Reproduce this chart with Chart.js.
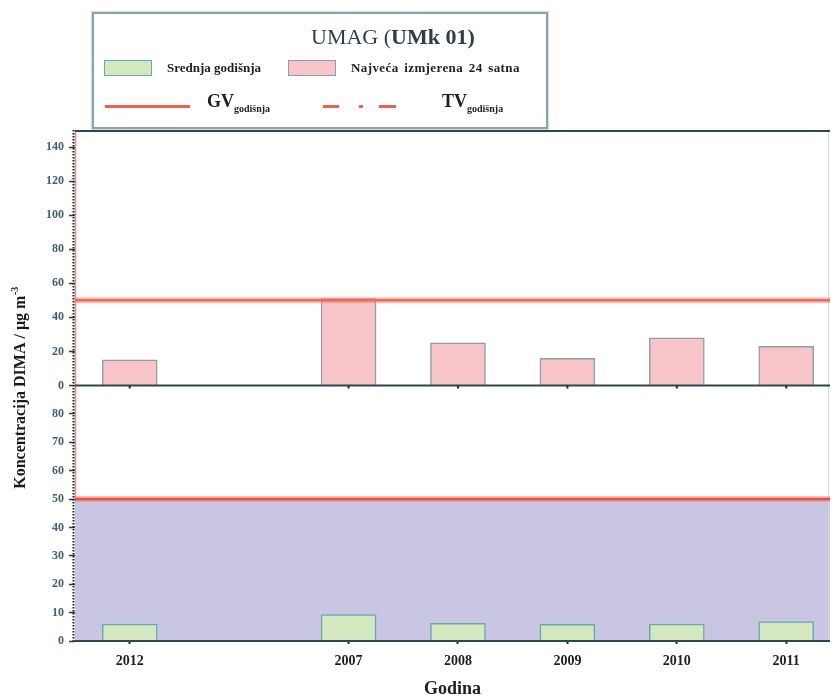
<!DOCTYPE html>
<html>
<head>
<meta charset="utf-8">
<script src="https://cdn.jsdelivr.net/npm/chart.js@4.4.1/dist/chart.umd.min.js"></script>
<style>
  html, body { margin: 0; padding: 0; background: #fff; }
  #wrap { position: relative; width: 832px; height: 698px; font-family: "Liberation Serif", "DejaVu Serif", serif; }
  canvas { position: absolute; left: 0; top: 0; }
  #legend { position: absolute; left: 92px; top: 12px; width: 452px; height: 113px;
            border: 2px solid #86a4b3; box-shadow: 0 0 0 1px #f3d2cc; background: #fff; color: #1e1e1e; }
  #legend .title { position: absolute; left: 217px; top: 10px; font-size: 22px; color: #2a3f4a; white-space: nowrap; }
  #legend .sw { position: absolute; width: 46px; height: 14px; border: 1.5px solid; }
  #legend .lbl { position: absolute; font-size: 13px; font-weight: bold; white-space: nowrap; }
  #legend .big { position: absolute; font-size: 18px; font-weight: bold; white-space: nowrap; }
  #legend .big sub { font-size: 10px; vertical-align: -5px; }
  #legend .ln { position: absolute; height: 3px; background: #ec6051; }
</style>
</head>
<body>
<div id="wrap">
  <canvas id="c" width="832" height="698"></canvas>
  <div id="legend">
    <div class="title">UMAG (<b>UMk 01)</b></div>
    <div class="sw" style="left:10px; top:46px; background:#d3e8bf; border-color:#6aa8b0;"></div>
    <div class="lbl" style="left:73px; top:46px;">Srednja godišnja</div>
    <div class="sw" style="left:194px; top:46px; background:#f7c5c8; border-color:#8f9dad;"></div>
    <div class="lbl" style="left:257px; top:46px; word-spacing: 2px; letter-spacing: 0.4px;">Najveća izmjerena 24 satna</div>
    <div class="ln" style="left:11px; top:91px; width:85px;"></div>
    <div class="big" style="left:113px; top:77px;">GV<sub>godišnja</sub></div>
    <div class="ln" style="left:229px; top:91px; width:16px;"></div>
    <div class="ln" style="left:265px; top:91px; width:4px;"></div>
    <div class="ln" style="left:285px; top:91px; width:17px;"></div>
    <div class="big" style="left:348px; top:77px;">TV<sub>godišnja</sub></div>
  </div>
</div>
<script>
// Measurement years at station UMAG (UMk 01); the empty slot keeps the gap after 2012
const YEARS = ['2012', '', '2007', '2008', '2009', '2010', '2011'];
// Highest measured 24-hour concentration (µg m-3)
const MAX_24H = [15, null, 51, 25, 16, 28, 23];
// Annual mean concentration (µg m-3)
const ANNUAL_MEAN = [6, null, 9.3, 6.2, 5.9, 6.0, 6.8];
// Annual limit value
const GV_ANNUAL = 50;
// Tick values of the two panels
const TOP_TICKS = [0, 20, 40, 60, 80, 100, 120, 140];
const BOTTOM_TICKS = [0, 10, 20, 30, 40, 50, 60, 70, 80];

const toPoints = vals => YEARS.map((y, i) => ({ x: i, y: vals[i] })).filter(p => p.y !== null);

const SERIF = '"Liberation Serif", "DejaVu Serif", serif';

const panelDecor = {
  id: 'panelDecor',
  beforeDatasetsDraw(chart) {
    const { ctx, chartArea: a, scales } = chart;
    const yb = scales.yBot;
    ctx.save();
    ctx.fillStyle = '#c9c6e3';
    const y50 = yb.getPixelForValue(GV_ANNUAL), y0 = yb.getPixelForValue(0);
    ctx.fillRect(a.left, y50, a.right - a.left, y0 - y50);
    ctx.restore();
  },
  afterDatasetsDraw(chart) {
    const { ctx, chartArea: a, scales } = chart;
    const yt = scales.yTop, yb = scales.yBot, x = scales.x;
    ctx.save();
    // left edge of plot
    ctx.strokeStyle = '#f08a7c';
    ctx.lineWidth = 1.5;
    ctx.beginPath(); ctx.moveTo(a.left + 0.5, a.top); ctx.lineTo(a.left + 0.5, yb.getPixelForValue(GV_ANNUAL)); ctx.stroke();
    // right edge
    ctx.strokeStyle = '#d6d6dc';
    ctx.lineWidth = 1;
    ctx.beginPath(); ctx.moveTo(a.right - 1.5, a.top); ctx.lineTo(a.right - 1.5, a.bottom); ctx.stroke();
    // limit value lines
    [[yt, 'rgba(240,120,105,0.45)', '#ee6a5b'], [yb, 'rgba(240,110,95,0.4)', '#e9503f']].forEach(([s, halo, c]) => {
      const y = s.getPixelForValue(GV_ANNUAL);
      ctx.strokeStyle = halo; ctx.lineWidth = 6;
      ctx.beginPath(); ctx.moveTo(a.left, y); ctx.lineTo(a.right, y); ctx.stroke();
      ctx.strokeStyle = c; ctx.lineWidth = 2.5;
      ctx.beginPath(); ctx.moveTo(a.left, y); ctx.lineTo(a.right, y); ctx.stroke();
    });
    // panel frame lines
    ctx.strokeStyle = '#2e4651';
    ctx.lineWidth = 2;
    [a.top + 1, yt.getPixelForValue(0), yb.getPixelForValue(0)].forEach(y => {
      ctx.beginPath(); ctx.moveTo(a.left, y); ctx.lineTo(a.right, y); ctx.stroke();
    });
    // small centre marks on the middle baseline
    ctx.fillStyle = '#1e2e36';
    YEARS.forEach((yr, i) => {
      if (!yr) return;
      const px = x.getPixelForValue(i);
      ctx.fillRect(px - 1, yt.getPixelForValue(0), 2, 3);
    });
    // dotted left axis
    ctx.strokeStyle = '#1b2327';
    ctx.lineWidth = 2;
    ctx.setLineDash([1.5, 1.5]);
    ctx.beginPath(); ctx.moveTo(a.left - 1.5, a.top); ctx.lineTo(a.left - 1.5, a.bottom); ctx.stroke();
    ctx.setLineDash([]);
    // shared y axis title
    ctx.translate(21, 388);
    ctx.rotate(-Math.PI / 2);
    ctx.fillStyle = '#1a1a1a';
    ctx.textBaseline = 'middle';
    ctx.font = 'bold 16px ' + SERIF;
    const main = 'Koncentracija DIMA / µg m';
    const wMain = ctx.measureText(main).width;
    ctx.font = 'bold 10px ' + SERIF;
    const sup = '-3';
    const wSup = ctx.measureText(sup).width;
    const start = -(wMain + wSup) / 2;
    ctx.font = 'bold 16px ' + SERIF;
    ctx.textAlign = 'left';
    ctx.fillText(main, start, 0);
    ctx.font = 'bold 10px ' + SERIF;
    ctx.fillText(sup, start + wMain + 0.5, -6);
    ctx.restore();
  }
};

const yTickStyle = { font: { family: SERIF, size: 12, weight: 'bold' }, color: '#42606e', padding: 5 };

new Chart(document.getElementById('c'), {
  type: 'bar',
  data: {
    datasets: [
      {
        label: 'Najveća izmjerena 24 satna',
        data: toPoints(MAX_24H),
        yAxisID: 'yTop',
        backgroundColor: '#f7c5c8',
        borderColor: '#8f9dad',
        borderWidth: 1.5,
        barThickness: 55,
        grouped: false
      },
      {
        label: 'Srednja godišnja',
        data: toPoints(ANNUAL_MEAN),
        yAxisID: 'yBot',
        backgroundColor: '#d3e8bf',
        borderColor: '#6aa8b0',
        borderWidth: 1.5,
        barThickness: 55,
        grouped: false
      }
    ]
  },
  options: {
    responsive: false,
    devicePixelRatio: 1,
    animation: false,
    layout: { padding: { top: 130, right: 2, left: 0, bottom: 0 } },
    plugins: { legend: { display: false }, tooltip: { enabled: false } },
    scales: {
      x: {
        type: 'linear',
        min: -0.5,
        max: 6.4,
        offset: false,
        grid: { display: true, offset: false, drawOnChartArea: false, drawTicks: true, tickLength: 3, tickWidth: 2, color: '#1e2e36' },
        border: { display: false },
        afterBuildTicks: s => { s.ticks = YEARS.map((y, i) => ({ value: i })).filter(t => YEARS[t.value]); },
        afterFit: s => { s.height = 57; },
        ticks: {
          callback: v => YEARS[v],
          font: { family: SERIF, size: 14, weight: 'bold' },
          color: '#1e1e1e',
          padding: 9,
          maxRotation: 0
        },
        title: {
          display: true,
          text: 'Godina',
          font: { family: SERIF, size: 18, weight: 'bold', lineHeight: 1 },
          color: '#1e1e1e',
          padding: { top: 0, bottom: 0 }
        }
      },
      yBot: {
        type: 'linear',
        position: 'left',
        stack: 'panels',
        stackWeight: 1,
        min: 0,
        max: 90,
        afterBuildTicks: s => { s.ticks = BOTTOM_TICKS.map(v => ({ value: v })); },
        afterFit: s => { s.width = 75; },
        grid: { display: true, drawOnChartArea: false, drawTicks: true, tickLength: 6, tickWidth: 1.5, color: '#2a3a42' },
        border: { display: false },
        ticks: yTickStyle
      },
      yTop: {
        type: 'linear',
        position: 'left',
        stack: 'panels',
        stackWeight: 1,
        min: 0,
        max: 150,
        afterBuildTicks: s => { s.ticks = TOP_TICKS.map(v => ({ value: v })); },
        afterFit: s => { s.width = 75; },
        grid: { display: true, drawOnChartArea: false, drawTicks: true, tickLength: 6, tickWidth: 1.5, color: '#2a3a42' },
        border: { display: false },
        ticks: yTickStyle
      }
    }
  },
  plugins: [panelDecor]
});
</script>
</body>
</html>
